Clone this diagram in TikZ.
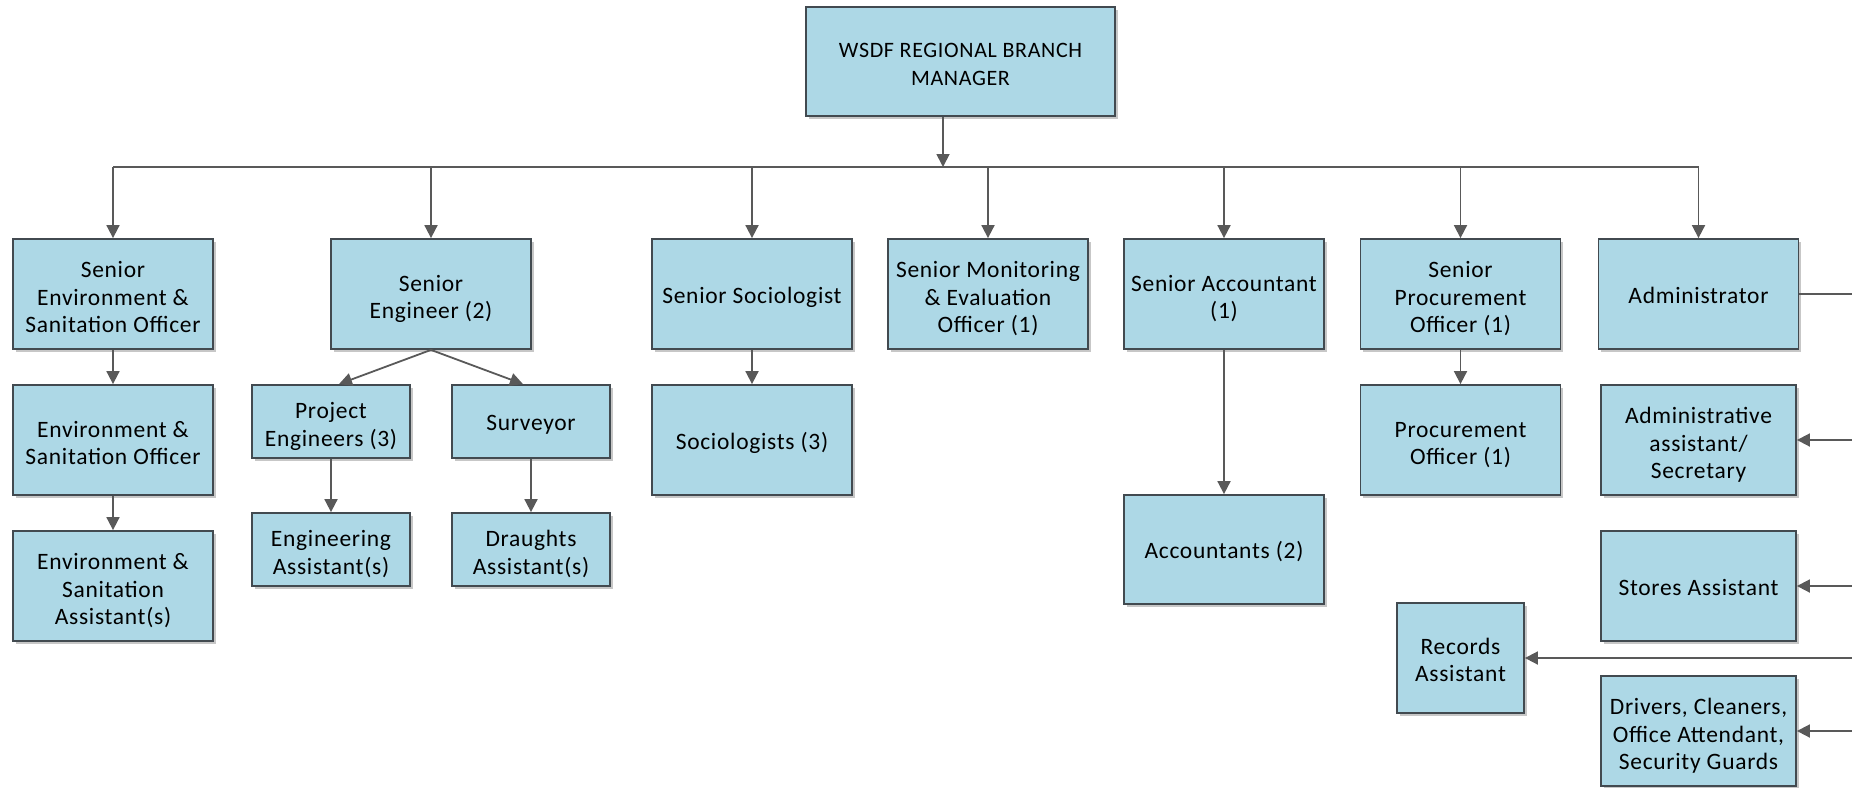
\documentclass[tikz,border=0pt]{standalone}
\usepackage{fontspec}
\setmainfont{Carlito}[LetterSpace=3]
\usetikzlibrary{arrows.meta,shadows,calc}

\definecolor{boxfill}{RGB}{173,216,230}
\definecolor{boxline}{RGB}{66,74,80}
\definecolor{linkcol}{RGB}{89,89,89}

% centred lines of a box label, lowered a little inside the box
\newcommand{\ml}[2][5.5pt]{\raisebox{-#1}[\height][\depth]{\begin{tabular}{@{}c@{}}#2\end{tabular}}}

\tikzset{
  orgbox/.style={rectangle, draw=boxline, line width=1.8pt, fill=boxfill,
    inner sep=2pt,
    font=\fontsize{23.5}{27.5}\selectfont,
    drop shadow={shadow xshift=2.5pt, shadow yshift=-2.5pt, fill=black!22, opacity=1}},
  wide/.style={minimum width=200pt, minimum height=110pt},
  small/.style={minimum width=158pt, minimum height=73pt},
  adminbox/.style={minimum width=195pt, minimum height=110pt},
  link/.style={draw=linkcol, line width=1.8pt},
  arr/.style={link, -{Triangle[length=13pt,width=13pt]}}
}

\begin{document}
\begin{tikzpicture}[x=1pt,y=-1pt]
\useasboundingbox (0,0) rectangle (1852,787);

% head of the branch
\node[orgbox, minimum width=309pt, minimum height=109pt, font=\fontsize{22}{27.5}\selectfont] (mgr) at (960.5,61.5)
  {\ml[4.5pt]{WSDF REGIONAL BRANCH\\MANAGER}};

% first level
\node[orgbox, wide] (senv) at (113,294) {\ml{Senior\\Environment \&\\Sanitation Officer}};
\node[orgbox, wide] (seng) at (431,294) {\ml{Senior\\Engineer (2)}};
\node[orgbox, wide] (ssoc) at (752,294) {\ml[3.5pt]{Senior Sociologist}};
\node[orgbox, wide] (sme)  at (988,294) {\ml{Senior Monitoring\\\& Evaluation\\Officer (1)}};
\node[orgbox, wide] (sacc) at (1224,294) {\ml{Senior Accountant\\(1)}};
\node[orgbox, wide] (sproc) at (1460.5,294) {\ml{Senior\\Procurement\\Officer (1)}};
\node[orgbox, wide] (admin) at (1698.5,294) {\ml[3.5pt]{Administrator}};

% environment & sanitation
\node[orgbox, wide] (env) at (113,440) {\ml{Environment \&\\Sanitation Officer}};
\node[orgbox, wide] (enva) at (113,586) {\ml{Environment \&\\Sanitation\\Assistant(s)}};

% engineering
\node[orgbox, small] (peng) at (331,421.5) {\ml{Project\\Engineers (3)}};
\node[orgbox, small] (surv) at (531,421.5) {\ml[3.5pt]{Surveyor}};
\node[orgbox, small] (enga) at (331,549.5) {\ml{Engineering\\Assistant(s)}};
\node[orgbox, small] (drau) at (531,549.5) {\ml{Draughts\\Assistant(s)}};

% sociology, accounts, procurement
\node[orgbox, wide] (soc) at (752,440) {\ml[3.5pt]{Sociologists (3)}};
\node[orgbox, minimum width=200pt, minimum height=109pt] (acc) at (1224,549.5) {\ml[3.5pt]{Accountants (2)}};
\node[orgbox, wide] (proc) at (1460.5,440) {\ml{Procurement\\Officer (1)}};

% administration
\node[orgbox, adminbox] (aas) at (1698.5,440) {\ml{Administrative\\assistant/\\Secretary}};
\node[orgbox, adminbox] (sto) at (1698.5,586) {\ml[3.5pt]{Stores Assistant}};
\node[orgbox, minimum width=127pt, minimum height=110pt] (rec) at (1460.5,658) {\ml[4.5pt]{Records\\Assistant}};
\node[orgbox, adminbox] (drv) at (1698.5,731) {\ml{Drivers, Cleaners,\\Office Attendant,\\Security Guards}};

% bus under the manager
\coordinate (bus) at (943,167);
\coordinate (redge) at (1852,0);
\draw[link] (senv.north |- bus) -- (admin.north |- bus);
\draw[arr] ([xshift=-17.5pt]mgr.south) -- (bus);
\foreach \n in {senv,seng,ssoc,sme,sacc,sproc,admin}
  \draw[arr] (\n.north |- bus) -- (\n.north);

% chains below the first level
\draw[arr] (senv) -- (env);
\draw[arr] (env) -- (enva);
\draw[arr] (seng.south) -- ([xshift=8pt]peng.north);
\draw[arr] (seng.south) -- ([xshift=-8pt]surv.north);
\draw[arr] (peng) -- (enga);
\draw[arr] (surv) -- (drau);
\draw[arr] (ssoc) -- (soc);
\draw[arr] (sacc) -- (acc);
\draw[arr] (sproc) -- (proc);

% administration feed from the right
\draw[link] (admin.east) -- (admin.east -| redge);
\draw[arr] (aas.east -| redge) -- (aas.east);
\draw[arr] (sto.east -| redge) -- (sto.east);
\draw[arr] (rec.east -| redge) -- (rec.east);
\draw[arr] (drv.east -| redge) -- (drv.east);
\end{tikzpicture}
\end{document}
